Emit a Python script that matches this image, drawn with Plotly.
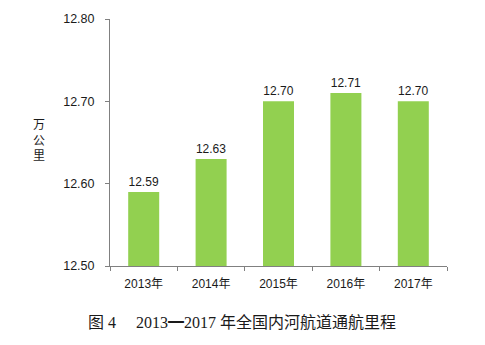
import plotly.graph_objects as go

# 全国内河航道通航里程（万公里）
years = ["2013年", "2014年", "2015年", "2016年", "2017年"]
mileage = [12.59, 12.63, 12.70, 12.71, 12.70]
y_ticks = [12.50, 12.60, 12.70, 12.80]

sans = "Liberation Sans, Arial, Noto Sans CJK SC"
serif = "Liberation Serif, Times New Roman, Noto Sans CJK SC"

fig = go.Figure(
    go.Bar(
        x=years,
        y=mileage,
        marker=dict(color="#92D050", line=dict(width=0)),
        texttemplate="%{y:.2f}",
        textposition="outside",
        textfont=dict(family=sans, size=12, color="#1a1a1a"),
        cliponaxis=False,
    )
)

fig.update_layout(
    width=485,
    height=345,
    margin=dict(l=110, r=38, t=17, b=79),
    paper_bgcolor="white",
    plot_bgcolor="white",
    bargap=0.54,
    showlegend=False,
    font=dict(family=sans, size=12, color="#1a1a1a"),
)

fig.update_xaxes(
    type="category",
    showline=True,
    linecolor="#808080",
    linewidth=1,
    ticks="outside",
    tickson="boundaries",
    ticklen=4,
    tickcolor="#808080",
    ticklabelstandoff=7,
    showgrid=False,
    tickfont=dict(family=sans, size=12, color="#1a1a1a"),
)

fig.update_yaxes(
    range=[12.50, 12.80],
    tickvals=y_ticks,
    ticktext=[f"{v:.2f}" for v in y_ticks],
    showline=True,
    linecolor="#808080",
    linewidth=1,
    ticks="outside",
    ticklen=4,
    tickcolor="#808080",
    ticklabelstandoff=8,
    showgrid=False,
    zeroline=False,
    tickfont=dict(family=sans, size=12.5, color="#1a1a1a"),
)

# 纵轴单位，竖排
fig.add_annotation(
    text="万<br>公<br>里",
    xref="paper", yref="paper",
    x=-0.21, y=0.515,
    xanchor="center", yanchor="middle",
    showarrow=False,
    font=dict(family="Noto Sans CJK SC", size=12, color="#1a1a1a"),
    align="center",
)

# 图题
fig.add_annotation(
    text="图 4\u3000 2013━2017 年全国内河航道通航里程",
    xref="paper", yref="paper",
    x=0.393, y=-0.23,
    xanchor="center", yanchor="middle",
    showarrow=False,
    font=dict(family=serif, size=16, color="#1a1a1a"),
)

fig.write_html("out.html")
